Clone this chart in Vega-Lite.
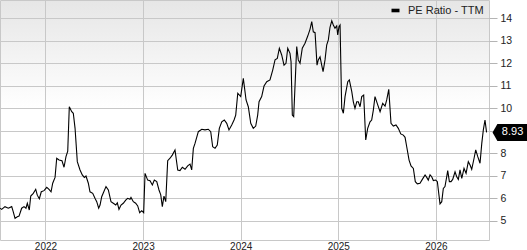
{
  "$schema": "https://vega.github.io/schema/vega-lite/v6.json",
  "width": 489,
  "height": 240,
  "autosize": {"type": "none"},
  "padding": {"left": 0, "top": 0, "right": 38, "bottom": 10},
  "background": "white",
  "config": {
    "font": "Liberation Sans",
    "view": {
      "stroke": "#c8c8c8",
      "fill": {"gradient": "linear", "x1": 0, "y1": 0, "x2": 0, "y2": 1,
        "stops": [{"offset": 0, "color": "#e6e6e6"}, {"offset": 0.45, "color": "#ffffff"}, {"offset": 1, "color": "#ffffff"}]}
    }
  },
  "data": {"values": [
    {"year": 2021.534, "pe": 5.56}, {"year": 2021.551, "pe": 5.51}, {"year": 2021.585, "pe": 5.63}, {"year": 2021.619, "pe": 5.56},
    {"year": 2021.654, "pe": 5.63}, {"year": 2021.670, "pe": 5.40}, {"year": 2021.688, "pe": 5.11}, {"year": 2021.711, "pe": 5.18},
    {"year": 2021.729, "pe": 5.21}, {"year": 2021.756, "pe": 5.56}, {"year": 2021.780, "pe": 5.63}, {"year": 2021.800, "pe": 5.56},
    {"year": 2021.814, "pe": 5.78}, {"year": 2021.834, "pe": 5.48}, {"year": 2021.849, "pe": 6.10}, {"year": 2021.875, "pe": 6.22},
    {"year": 2021.900, "pe": 6.40}, {"year": 2021.916, "pe": 6.14}, {"year": 2021.937, "pe": 5.98}, {"year": 2021.957, "pe": 6.29},
    {"year": 2021.985, "pe": 6.34}, {"year": 2022.013, "pe": 6.49}, {"year": 2022.036, "pe": 6.40}, {"year": 2022.057, "pe": 6.29},
    {"year": 2022.074, "pe": 6.67}, {"year": 2022.098, "pe": 6.93}, {"year": 2022.115, "pe": 7.78}, {"year": 2022.139, "pe": 7.70},
    {"year": 2022.169, "pe": 7.67}, {"year": 2022.190, "pe": 7.38}, {"year": 2022.210, "pe": 7.85}, {"year": 2022.228, "pe": 8.10},
    {"year": 2022.244, "pe": 10.07}, {"year": 2022.269, "pe": 9.85}, {"year": 2022.285, "pe": 9.78}, {"year": 2022.303, "pe": 9.11},
    {"year": 2022.326, "pe": 7.63}, {"year": 2022.354, "pe": 7.26}, {"year": 2022.377, "pe": 7.04}, {"year": 2022.398, "pe": 6.93},
    {"year": 2022.415, "pe": 6.99}, {"year": 2022.439, "pe": 6.67}, {"year": 2022.456, "pe": 6.29}, {"year": 2022.484, "pe": 6.22},
    {"year": 2022.507, "pe": 6.00}, {"year": 2022.525, "pe": 5.85}, {"year": 2022.545, "pe": 5.56}, {"year": 2022.559, "pe": 5.70},
    {"year": 2022.576, "pe": 6.07}, {"year": 2022.620, "pe": 6.52}, {"year": 2022.644, "pe": 6.37}, {"year": 2022.671, "pe": 5.85},
    {"year": 2022.695, "pe": 5.78}, {"year": 2022.720, "pe": 5.70}, {"year": 2022.736, "pe": 5.80}, {"year": 2022.753, "pe": 5.51},
    {"year": 2022.774, "pe": 5.70}, {"year": 2022.797, "pe": 5.78}, {"year": 2022.822, "pe": 5.92}, {"year": 2022.842, "pe": 6.00},
    {"year": 2022.866, "pe": 5.96}, {"year": 2022.876, "pe": 6.04}, {"year": 2022.900, "pe": 5.85}, {"year": 2022.924, "pe": 5.78},
    {"year": 2022.945, "pe": 5.66}, {"year": 2022.965, "pe": 5.36}, {"year": 2022.986, "pe": 5.45}, {"year": 2023.006, "pe": 5.36},
    {"year": 2023.020, "pe": 7.11}, {"year": 2023.047, "pe": 6.81}, {"year": 2023.071, "pe": 6.78}, {"year": 2023.095, "pe": 6.59},
    {"year": 2023.115, "pe": 6.81}, {"year": 2023.140, "pe": 6.74}, {"year": 2023.163, "pe": 6.37}, {"year": 2023.181, "pe": 6.15},
    {"year": 2023.197, "pe": 5.63}, {"year": 2023.214, "pe": 6.10}, {"year": 2023.232, "pe": 5.85}, {"year": 2023.252, "pe": 7.67},
    {"year": 2023.276, "pe": 7.78}, {"year": 2023.299, "pe": 7.92}, {"year": 2023.327, "pe": 8.15}, {"year": 2023.355, "pe": 7.26},
    {"year": 2023.378, "pe": 7.23}, {"year": 2023.402, "pe": 7.38}, {"year": 2023.430, "pe": 7.29}, {"year": 2023.457, "pe": 7.44},
    {"year": 2023.481, "pe": 7.52}, {"year": 2023.498, "pe": 7.26}, {"year": 2023.515, "pe": 8.22}, {"year": 2023.532, "pe": 8.44},
    {"year": 2023.566, "pe": 8.96}, {"year": 2023.601, "pe": 9.07}, {"year": 2023.634, "pe": 9.04}, {"year": 2023.668, "pe": 9.07},
    {"year": 2023.693, "pe": 8.96}, {"year": 2023.713, "pe": 8.29}, {"year": 2023.737, "pe": 8.22}, {"year": 2023.760, "pe": 8.37},
    {"year": 2023.781, "pe": 9.11}, {"year": 2023.806, "pe": 9.40}, {"year": 2023.832, "pe": 9.48}, {"year": 2023.857, "pe": 9.33},
    {"year": 2023.880, "pe": 9.04}, {"year": 2023.908, "pe": 9.26}, {"year": 2023.932, "pe": 9.48}, {"year": 2023.949, "pe": 9.70},
    {"year": 2023.970, "pe": 10.67}, {"year": 2024.000, "pe": 10.52}, {"year": 2024.027, "pe": 11.33}, {"year": 2024.055, "pe": 10.37},
    {"year": 2024.078, "pe": 10.07}, {"year": 2024.103, "pe": 9.33}, {"year": 2024.129, "pe": 9.11}, {"year": 2024.154, "pe": 9.21},
    {"year": 2024.174, "pe": 9.70}, {"year": 2024.188, "pe": 10.29}, {"year": 2024.215, "pe": 10.52}, {"year": 2024.239, "pe": 10.99},
    {"year": 2024.267, "pe": 11.18}, {"year": 2024.300, "pe": 11.26}, {"year": 2024.328, "pe": 11.70}, {"year": 2024.352, "pe": 12.15},
    {"year": 2024.375, "pe": 12.22}, {"year": 2024.396, "pe": 12.67}, {"year": 2024.420, "pe": 12.37}, {"year": 2024.444, "pe": 11.92},
    {"year": 2024.464, "pe": 12.00}, {"year": 2024.482, "pe": 12.67}, {"year": 2024.505, "pe": 12.44}, {"year": 2024.516, "pe": 12.07},
    {"year": 2024.529, "pe": 9.70}, {"year": 2024.543, "pe": 9.63}, {"year": 2024.574, "pe": 12.74}, {"year": 2024.590, "pe": 12.15},
    {"year": 2024.608, "pe": 12.00}, {"year": 2024.631, "pe": 12.67}, {"year": 2024.659, "pe": 12.89}, {"year": 2024.687, "pe": 13.21},
    {"year": 2024.710, "pe": 13.51}, {"year": 2024.728, "pe": 13.85}, {"year": 2024.744, "pe": 13.40}, {"year": 2024.762, "pe": 13.36},
    {"year": 2024.782, "pe": 11.92}, {"year": 2024.795, "pe": 12.15}, {"year": 2024.813, "pe": 12.29}, {"year": 2024.830, "pe": 11.92},
    {"year": 2024.844, "pe": 11.63}, {"year": 2024.864, "pe": 12.15}, {"year": 2024.881, "pe": 12.81}, {"year": 2024.898, "pe": 13.04},
    {"year": 2024.915, "pe": 13.60}, {"year": 2024.933, "pe": 13.89}, {"year": 2024.949, "pe": 13.70}, {"year": 2024.966, "pe": 13.56},
    {"year": 2024.984, "pe": 13.66}, {"year": 2024.994, "pe": 13.26}, {"year": 2025.007, "pe": 13.63}, {"year": 2025.018, "pe": 13.70},
    {"year": 2025.035, "pe": 10.00}, {"year": 2025.052, "pe": 9.78}, {"year": 2025.069, "pe": 10.52}, {"year": 2025.097, "pe": 11.18},
    {"year": 2025.113, "pe": 11.26}, {"year": 2025.138, "pe": 10.74}, {"year": 2025.154, "pe": 10.29}, {"year": 2025.171, "pe": 10.00},
    {"year": 2025.189, "pe": 10.29}, {"year": 2025.205, "pe": 10.29}, {"year": 2025.223, "pe": 10.07}, {"year": 2025.240, "pe": 10.52},
    {"year": 2025.260, "pe": 10.59}, {"year": 2025.281, "pe": 8.59}, {"year": 2025.301, "pe": 9.11}, {"year": 2025.325, "pe": 9.40},
    {"year": 2025.342, "pe": 9.48}, {"year": 2025.359, "pe": 9.92}, {"year": 2025.376, "pe": 10.52}, {"year": 2025.404, "pe": 10.15},
    {"year": 2025.428, "pe": 9.85}, {"year": 2025.455, "pe": 10.22}, {"year": 2025.479, "pe": 10.10}, {"year": 2025.496, "pe": 10.37},
    {"year": 2025.517, "pe": 10.84}, {"year": 2025.540, "pe": 9.33}, {"year": 2025.564, "pe": 9.21}, {"year": 2025.591, "pe": 9.26},
    {"year": 2025.615, "pe": 9.11}, {"year": 2025.640, "pe": 8.86}, {"year": 2025.666, "pe": 8.81}, {"year": 2025.684, "pe": 8.71},
    {"year": 2025.701, "pe": 8.29}, {"year": 2025.725, "pe": 7.70}, {"year": 2025.745, "pe": 7.44}, {"year": 2025.769, "pe": 7.33},
    {"year": 2025.789, "pe": 6.74}, {"year": 2025.810, "pe": 6.64}, {"year": 2025.837, "pe": 6.67}, {"year": 2025.861, "pe": 6.84},
    {"year": 2025.889, "pe": 7.04}, {"year": 2025.906, "pe": 6.93}, {"year": 2025.922, "pe": 6.81}, {"year": 2025.940, "pe": 7.04},
    {"year": 2025.957, "pe": 6.96}, {"year": 2025.974, "pe": 6.79}, {"year": 2025.998, "pe": 6.81}, {"year": 2026.015, "pe": 6.74},
    {"year": 2026.025, "pe": 6.37}, {"year": 2026.042, "pe": 5.75}, {"year": 2026.060, "pe": 5.85}, {"year": 2026.076, "pe": 6.44},
    {"year": 2026.093, "pe": 6.52}, {"year": 2026.111, "pe": 6.96}, {"year": 2026.121, "pe": 7.23}, {"year": 2026.138, "pe": 6.74},
    {"year": 2026.155, "pe": 6.74}, {"year": 2026.172, "pe": 6.84}, {"year": 2026.196, "pe": 7.18}, {"year": 2026.213, "pe": 6.96},
    {"year": 2026.230, "pe": 6.84}, {"year": 2026.247, "pe": 7.26}, {"year": 2026.265, "pe": 6.89}, {"year": 2026.288, "pe": 7.33},
    {"year": 2026.309, "pe": 7.11}, {"year": 2026.332, "pe": 7.63}, {"year": 2026.350, "pe": 7.48}, {"year": 2026.367, "pe": 7.29},
    {"year": 2026.391, "pe": 7.78}, {"year": 2026.408, "pe": 8.15}, {"year": 2026.429, "pe": 7.85}, {"year": 2026.452, "pe": 7.56},
    {"year": 2026.470, "pe": 8.44}, {"year": 2026.486, "pe": 9.04}, {"year": 2026.503, "pe": 9.48}, {"year": 2026.519, "pe": 8.93}
  ]},
  "encoding": {
    "x": {"field": "year", "type": "quantitative",
      "scale": {"domain": [2021.534, 2026.544], "nice": false, "zero": false},
      "axis": {"title": null, "values": [2022, 2023, 2024, 2025, 2026], "format": "d", "grid": true, "gridColor": "#c8c8c8", "gridOpacity": 1,
        "domain": false, "ticks": false, "labelPadding": 1, "labelFontSize": 10, "labelColor": "#222222", "labelFlush": false}},
    "y": {"field": "pe", "type": "quantitative",
      "scale": {"domain": [4.147, 14.813], "nice": false, "zero": false},
      "axis": {"title": null, "orient": "right", "values": [5, 6, 7, 8, 9, 10, 11, 12, 13, 14], "grid": true, "gridColor": "#c8c8c8", "gridOpacity": 1,
        "labelExpr": "datum.value == 9 ? '' : datum.label",
        "domain": false, "tickSize": 8, "tickColor": "#b4b4b4", "labelPadding": 3, "labelFontSize": 10.5, "labelColor": "#222222"}}
  },
  "layer": [
    {
      "mark": {"type": "line", "color": "black", "strokeWidth": 1.1},
      "encoding": {
        "color": {"datum": "PE Ratio - TTM", "scale": {"range": ["#000000"]},
          "legend": {"title": null, "orient": "top-right", "offset": 5, "padding": 0,
            "symbolType": "M-1,-0.45L1,-0.45L1,0.45L-1,0.45Z", "symbolSize": 64, "symbolFillColor": "#000000", "symbolStrokeColor": "#000000", "symbolStrokeWidth": 0,
            "labelFontSize": 11, "labelColor": "#222222", "labelOffset": 7}}
      }
    },
    {
      "transform": [{"filter": "datum.year > 2026.51"}],
      "mark": {"type": "point", "shape": "M6,0L10.8,-8.5L40.5,-8.5L40.5,8.5L10.8,8.5Z", "size": 4, "filled": true, "color": "black", "opacity": 1, "strokeWidth": 0}
    },
    {
      "transform": [{"filter": "datum.year > 2026.51"}],
      "mark": {"type": "text", "color": "white", "dx": 26, "align": "center", "baseline": "middle", "fontSize": 11},
      "encoding": {"text": {"field": "pe", "format": ".2f"}}
    }
  ]
}
